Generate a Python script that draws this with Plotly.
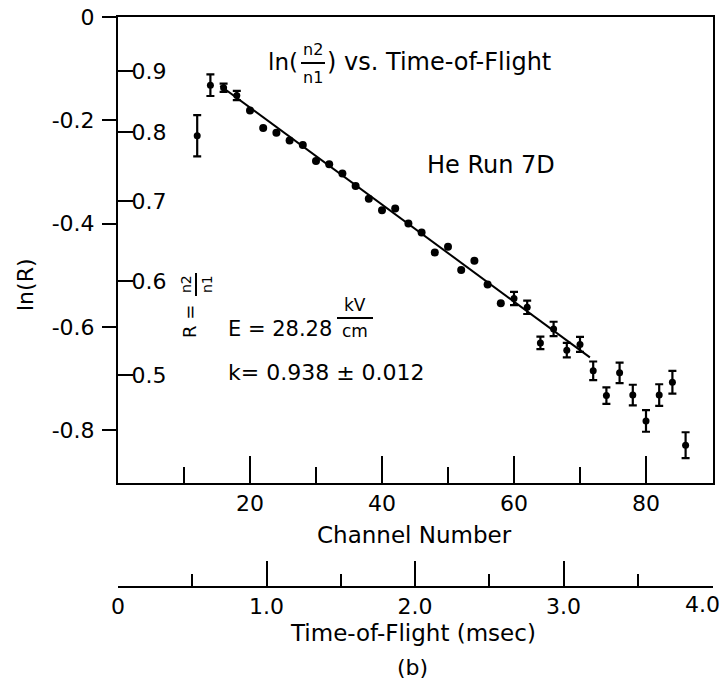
import numpy as np
import plotly.graph_objects as go

# ---------------- data ----------------
channel = [12, 14, 16, 18, 20, 22, 24, 26, 28, 30, 32, 34, 36, 38, 40, 42, 44, 46,
           48, 50, 52, 54, 56, 58, 60, 62, 64, 66, 68, 70, 72, 74, 76, 78, 80, 82, 84, 86]
ln_r = [-0.230, -0.132, -0.137, -0.152, -0.181, -0.215, -0.224, -0.239, -0.248, -0.279,
        -0.285, -0.303, -0.327, -0.352, -0.374, -0.371, -0.400, -0.417, -0.456, -0.445,
        -0.490, -0.472, -0.518, -0.554, -0.545, -0.562, -0.631, -0.604, -0.645, -0.634,
        -0.685, -0.733, -0.689, -0.732, -0.782, -0.732, -0.707, -0.829]
ln_r_err = [0.040, 0.021, 0.008, 0.009, 0, 0, 0, 0, 0, 0,
            0, 0, 0, 0, 0, 0, 0, 0, 0, 0,
            0, 0, 0, 0, 0.013, 0.013, 0.012, 0.014, 0.014, 0.0145,
            0.018, 0.016, 0.020, 0.020, 0.021, 0.021, 0.022, 0.025]

fit_channel = [15.5, 71.5]
fit_ln_r = [-0.133, -0.659]

lnr_ticks = [0, -0.2, -0.4, -0.6, -0.8]
lnr_labels = ["0", "-0.2", "-0.4", "-0.6", "-0.8"]
r_ticks = [0.9, 0.8, 0.7, 0.6, 0.5]
r_labels = ["0.9", "0.8", "0.7", "0.6", "0.5"]
ch_ticks = [20, 40, 60, 80]
ch_minor = [10, 30, 50, 70]
tof_ticks = [0, 1, 2, 3, 4]
tof_labels = ["0", "1.0", "2.0", "3.0", "4.0"]
tof_minor = [0.5, 1.5, 2.5, 3.5]

# ---------------- layout helpers (pixel -> paper) ----------------
L, R, T, B = 118, 713, 17, 586
W, H = 726, 685
def px(x):
    return (x - L) / (R - L)
def py(y):
    return (B - y) / (B - T)

FONT = "DejaVu Sans"
BLACK = "black"
TF = dict(family=FONT, size=22, color=BLACK)

fig = go.Figure()

err_idx = [i for i, e in enumerate(ln_r_err) if e > 0]
plain_idx = [i for i, e in enumerate(ln_r_err) if e == 0]

fig.add_trace(go.Scatter(
    x=[channel[i] for i in plain_idx], y=[ln_r[i] for i in plain_idx],
    mode="markers", marker=dict(color=BLACK, size=8), showlegend=False,
    xaxis="x", yaxis="y"))
fig.add_trace(go.Scatter(
    x=[channel[i] for i in err_idx], y=[ln_r[i] for i in err_idx],
    mode="markers", marker=dict(color=BLACK, size=7),
    error_y=dict(type="data", array=[ln_r_err[i] for i in err_idx],
                 color=BLACK, thickness=2.2, width=4),
    showlegend=False, xaxis="x", yaxis="y"))
fig.add_trace(go.Scatter(
    x=fit_channel, y=fit_ln_r, mode="lines",
    line=dict(color=BLACK, width=2), showlegend=False,
    xaxis="x", yaxis="y2"))
# empty carriers so the extra axes are drawn (no visible marks)
for xa, ya, vals in [("x2", "y3", tof_ticks), ("x3", "y", ch_minor), ("x4", "y3", tof_minor)]:
    fig.add_trace(go.Scatter(x=vals, y=[None] * len(vals), mode="markers",
                             showlegend=False, hoverinfo="skip", xaxis=xa, yaxis=ya))

y_range = [-(483 - 17) / 516.5, 0]
x_range = [0, (R - L) / 6.6]
tof_range = [0, (R - L) / 148.5]

common = dict(showgrid=False, zeroline=False, automargin=False)

fig.update_layout(
    width=W, height=H, autosize=False,
    margin=dict(l=L, r=W - R, t=T, b=H - B, pad=0, autoexpand=False),
    paper_bgcolor="white", plot_bgcolor="white",
    font=dict(family=FONT, color=BLACK, size=22),
    xaxis=dict(domain=[0, 1], range=x_range, anchor="y",
               showline=True, linewidth=2, linecolor=BLACK, mirror=True,
               ticks="inside", ticklen=27, tickwidth=2, tickcolor=BLACK,
               tickmode="array", tickvals=ch_ticks, ticktext=[str(v) for v in ch_ticks],
               tickfont=TF, ticklabelstandoff=0, **common),
    xaxis3=dict(overlaying="x", anchor="y", side="bottom", range=x_range,
                showline=False, ticks="inside", ticklen=16, tickwidth=2, tickcolor=BLACK,
                tickmode="array", tickvals=ch_minor, showticklabels=False, **common),
    yaxis=dict(domain=[py(483), 1], range=y_range, anchor="x",
               showline=True, linewidth=2, linecolor=BLACK, mirror=True,
               ticks="outside", ticklen=14, tickwidth=2, tickcolor=BLACK,
               tickmode="array", tickvals=lnr_ticks, ticktext=lnr_labels,
               tickfont=TF, ticklabelstandoff=3, **common),
    yaxis2=dict(overlaying="y", anchor="x", side="left", range=y_range,
                showline=False, ticks="inside", ticklen=15, tickwidth=2, tickcolor=BLACK,
                ticklabelposition="inside",
                tickmode="array", tickvals=list(np.log(r_ticks)), ticktext=r_labels,
                tickfont=TF, **common),
    yaxis3=dict(domain=[0, 0.06], anchor="x2", range=[0, 1], visible=False, **common),
    xaxis2=dict(domain=[0, 1], anchor="y3", side="bottom",
                range=tof_range, showline=True, linewidth=2, linecolor=BLACK,
                ticks="inside", ticklen=25, tickwidth=2, tickcolor=BLACK,
                tickmode="array", tickvals=tof_ticks[:-1], ticktext=tof_labels[:-1],
                tickfont=TF, ticklabelstandoff=0, **common),
    xaxis4=dict(overlaying="x2", anchor="y3", side="bottom", range=tof_range,
                showline=False, ticks="inside", ticklen=12, tickwidth=2, tickcolor=BLACK,
                tickmode="array", tickvals=tof_minor, showticklabels=False, **common),
    # tall tick at the last (4.0) position, label drawn separately so it stays on the page
    xaxis5=dict(overlaying="x2", anchor="y3", side="bottom", range=tof_range,
                showline=False, ticks="inside", ticklen=25, tickwidth=2, tickcolor=BLACK,
                tickmode="array", tickvals=tof_ticks[-1:], showticklabels=False, **common),
)
fig.add_trace(go.Scatter(x=tof_ticks[-1:], y=[None], mode="markers",
                         showlegend=False, hoverinfo="skip", xaxis="x5", yaxis="y3"))

def note(text, x, y, size=22, xanchor="center", angle=0):
    fig.add_annotation(text=text, x=px(x), y=py(y), xref="paper", yref="paper",
                       showarrow=False, xanchor=xanchor, yanchor="middle",
                       textangle=angle, font=dict(family=FONT, size=size, color=BLACK))

def bar(x0, y0, x1, y1):
    fig.add_shape(type="line", xref="paper", yref="paper",
                  x0=px(x0), y0=py(y0), x1=px(x1), y1=py(y1),
                  line=dict(color=BLACK, width=2))

# last time-of-flight tick label, kept inside the page
note(tof_labels[-1], 722, 604, size=22, xanchor="right")

# title: ln(n2/n1) vs. Time-of-Flight
note("ln(", 300, 62, size=23, xanchor="right")
note("n2", 313, 49, size=16)
note("n1", 313, 77, size=16)
bar(301, 63, 325, 63)
note(") vs. Time-of-Flight", 325, 62, size=24, xanchor="left")

note("He Run 7D", 491, 165, size=24)

# E = 28.28 kV/cm
note("E = 28.28", 226, 329, size=21, xanchor="left")
note("kV", 355, 305, size=17)
note("cm", 355, 331, size=17)
bar(337, 318, 373, 318)

note("k= 0.938 \u00b1 0.012", 226, 372, size=22, xanchor="left")

# R = n2/n1 (rotated)
note("R =", 189, 322, size=18, angle=-90)
note("n2", 186, 284, size=14, angle=-90)
note("n1", 207, 284, size=14, angle=-90)
bar(196, 273, 196, 296)

# axis titles
note("ln(R)", 25, 285, size=22, angle=-90)
note("Channel Number", 414, 535, size=23)
note("Time-of-Flight (msec)", 413, 633, size=23)
note("(b)", 412, 667, size=22)

fig.write_html("out.html")
